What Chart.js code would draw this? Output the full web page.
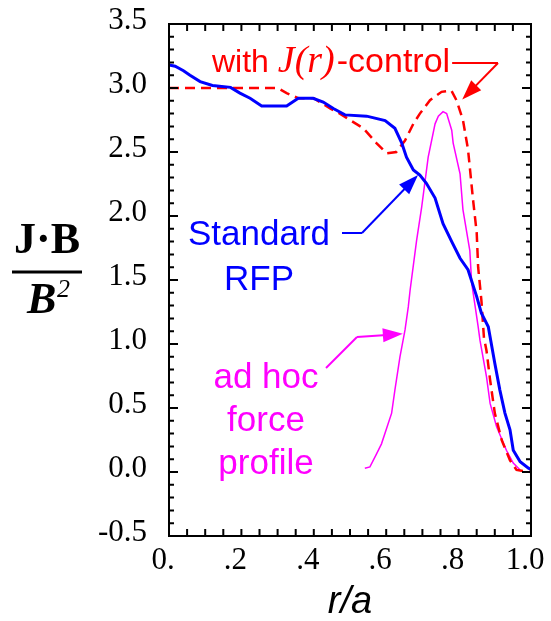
<!DOCTYPE html>
<html>
<head>
<meta charset="utf-8">
<script src="https://cdn.jsdelivr.net/npm/chart.js@4.4.1/dist/chart.umd.min.js"></script>
<style>
  html, body { margin: 0; padding: 0; background: #fff; }
  #wrap { width: 551px; height: 621px; position: relative; }
</style>
</head>
<body>
<div id="wrap"><canvas id="chart-jb"></canvas></div>
<script>
// values (r/a, J.B/B^2)
const standardR = [0, 0.017, 0.04, 0.058, 0.086, 0.12, 0.17, 0.196, 0.224, 0.256, 0.325, 0.357, 0.398, 0.426, 0.454, 0.486, 0.546, 0.597, 0.624, 0.643, 0.656, 0.675, 0.693, 0.711, 0.735, 0.757, 0.781, 0.804, 0.826, 0.85, 0.863, 0.882, 0.9, 0.914, 0.928, 0.942, 0.951, 0.97, 0.993, 1.0];
const standardVal = [3.18, 3.17, 3.135, 3.1, 3.05, 3.02, 3.005, 2.96, 2.92, 2.86, 2.86, 2.92, 2.92, 2.89, 2.84, 2.79, 2.78, 2.745, 2.685, 2.57, 2.46, 2.36, 2.32, 2.255, 2.14, 1.94, 1.8, 1.67, 1.58, 1.37, 1.24, 1.135, 0.85, 0.64, 0.46, 0.33, 0.17, 0.08, 0.03, 0.02];

const controlR = [0, 0.3, 0.325, 0.357, 0.4, 0.445, 0.472, 0.5, 0.537, 0.573, 0.601, 0.628, 0.652, 0.675, 0.693, 0.721, 0.753, 0.78, 0.794, 0.812, 0.826, 0.84, 0.85, 0.854, 0.863, 0.87, 0.877, 0.887, 0.9, 0.919, 0.942, 0.96, 0.974, 1.0];
const controlVal = [3.0, 3.0, 2.96, 2.92, 2.92, 2.84, 2.8, 2.75, 2.685, 2.57, 2.49, 2.5, 2.59, 2.72, 2.8, 2.905, 2.97, 2.98, 2.905, 2.75, 2.52, 2.125, 1.87, 1.6, 1.34, 1.05, 0.95, 0.72, 0.46, 0.25, 0.09, 0.016, 0.01, 0.0];

const forceR = [0.541, 0.555, 0.573, 0.587, 0.601, 0.615, 0.624, 0.638, 0.652, 0.661, 0.666, 0.684, 0.698, 0.716, 0.735, 0.744, 0.757, 0.767, 0.781, 0.785, 0.804, 0.812, 0.831, 0.836, 0.854, 0.859, 0.877, 0.887, 0.905, 0.932, 0.951, 0.97];
const forceVal = [0.03, 0.04, 0.14, 0.22, 0.34, 0.46, 0.64, 0.9, 1.11, 1.29, 1.42, 1.81, 2.07, 2.46, 2.72, 2.78, 2.815, 2.8, 2.67, 2.57, 2.33, 2.05, 1.73, 1.48, 1.135, 1.03, 0.745, 0.536, 0.354, 0.17, 0.07, 0.016];

const xTickLabels = ["0.", ".2", ".4", ".6", ".8", "1.0"];
const yTickLabels = ["-0.5", "0.0", "0.5", "1.0", "1.5", "2.0", "2.5", "3.0", "3.5"];

// arrow tips sit on the curves (data coords)
const standardTip = [0.688, 2.32];
const controlTip = [0.81, 2.91];
const forceTip = [0.646, 1.08];

function toPoints(xs, ys) {
  return xs.map((v, i) => ({ x: v, y: ys[i] }));
}

function arrow(ctx, x0, y0, x1, y1, color) {
  const ang = Math.atan2(y1 - y0, x1 - x0);
  const len = 20, half = 7;
  ctx.strokeStyle = color;
  ctx.fillStyle = color;
  ctx.lineWidth = 2;
  ctx.beginPath();
  ctx.moveTo(x0, y0);
  ctx.lineTo(x1 - Math.cos(ang) * len * 0.8, y1 - Math.sin(ang) * len * 0.8);
  ctx.stroke();
  ctx.beginPath();
  ctx.moveTo(x1, y1);
  ctx.lineTo(x1 - Math.cos(ang) * len - Math.sin(ang) * half, y1 - Math.sin(ang) * len + Math.cos(ang) * half);
  ctx.lineTo(x1 - Math.cos(ang) * len + Math.sin(ang) * half, y1 - Math.sin(ang) * len - Math.cos(ang) * half);
  ctx.closePath();
  ctx.fill();
}

const frameTicks = {
  id: 'frameTicks',
  afterDraw(chart) {
    const { ctx, chartArea: a, scales: { x, y } } = chart;
    ctx.save();
    ctx.strokeStyle = '#000';
    ctx.lineWidth = 2;
    ctx.strokeRect(a.left, a.top, a.right - a.left, a.bottom - a.top);
    ctx.beginPath();
    for (let i = 0; i <= 20; i++) {
      const px = x.getPixelForValue(i * 0.05);
      ctx.moveTo(px, a.bottom); ctx.lineTo(px, a.bottom - 7);
      ctx.moveTo(px, a.top); ctx.lineTo(px, a.top + 7);
    }
    for (let i = 0; i <= 40; i++) {
      const py = y.getPixelForValue(-0.5 + i * 0.1);
      const len = i % 5 === 0 ? 9 : 5;
      ctx.moveTo(a.left, py); ctx.lineTo(a.left + len, py);
      ctx.moveTo(a.right, py); ctx.lineTo(a.right - len, py);
    }
    ctx.stroke();
    ctx.restore();
  }
};

const labels = {
  id: 'labels',
  afterDraw(chart) {
    const { ctx, scales: { x, y } } = chart;
    ctx.save();
    ctx.textBaseline = 'alphabetic';

    // red: with J(r)-control
    ctx.fillStyle = '#ff0000';
    ctx.textAlign = 'left';
    let tx = 212;
    ctx.font = '32px "Liberation Sans"';
    ctx.fillText('with ', tx, 72);
    tx += ctx.measureText('with ').width;
    ctx.font = 'italic 38px "Liberation Serif"';
    ctx.fillText('J(r)', tx, 72);
    tx += ctx.measureText('J(r)').width + 2;
    ctx.font = '34px "Liberation Sans"';
    ctx.fillText('-control', tx, 72);
    tx += ctx.measureText('-control').width;
    ctx.strokeStyle = '#ff0000';
    ctx.lineWidth = 2;
    ctx.beginPath();
    ctx.moveTo(tx + 2, 63); ctx.lineTo(498, 63);
    ctx.stroke();
    arrow(ctx, 498, 63, x.getPixelForValue(controlTip[0]), y.getPixelForValue(controlTip[1]), '#ff0000');

    // blue: Standard RFP
    ctx.fillStyle = '#0000ff';
    ctx.textAlign = 'center';
    ctx.font = '35px "Liberation Sans"';
    ctx.fillText('Standard', 259, 245);
    ctx.fillText('RFP', 259, 290);
    ctx.strokeStyle = '#0000ff';
    ctx.lineWidth = 2;
    ctx.beginPath();
    ctx.moveTo(342, 233); ctx.lineTo(362, 233);
    ctx.stroke();
    arrow(ctx, 362, 233, x.getPixelForValue(standardTip[0]), y.getPixelForValue(standardTip[1]), '#0000ff');

    // magenta: ad hoc force profile
    ctx.fillStyle = '#ff00ff';
    ctx.fillText('ad hoc', 266, 388);
    ctx.fillText('force', 266, 431);
    ctx.fillText('profile', 266, 474);
    ctx.strokeStyle = '#ff00ff';
    ctx.lineWidth = 2;
    ctx.beginPath();
    ctx.moveTo(326, 368); ctx.lineTo(357, 337);
    ctx.stroke();
    arrow(ctx, 357, 337, x.getPixelForValue(forceTip[0]), y.getPixelForValue(forceTip[1]), '#ff00ff');

    // y title: J.B / B^2
    ctx.fillStyle = '#000';
    ctx.strokeStyle = '#000';
    ctx.textAlign = 'center';
    ctx.font = 'bold 44px "Liberation Serif"';
    ctx.fillText('J\u00B7B', 47, 253);
    ctx.lineWidth = 3;
    ctx.beginPath();
    ctx.moveTo(12, 272); ctx.lineTo(82, 272);
    ctx.stroke();
    ctx.textAlign = 'left';
    ctx.font = 'italic bold 44px "Liberation Serif"';
    ctx.fillText('B', 27, 313);
    ctx.font = 'italic 26px "Liberation Serif"';
    ctx.fillText('2', 57, 297);

    // x title
    ctx.textAlign = 'center';
    ctx.font = 'italic 38px "Liberation Sans"';
    ctx.fillText('r/a', 350, 613);
    ctx.restore();
  }
};

new Chart(document.getElementById('chart-jb').getContext('2d'), {
  type: 'scatter',
  data: {
    datasets: [
      {
        label: 'Standard RFP',
        data: toPoints(standardR, standardVal),
        showLine: true,
        borderColor: '#0000ff',
        borderWidth: 3,
        pointRadius: 0,
        tension: 0
      },
      {
        label: 'with J(r)-control',
        data: toPoints(controlR, controlVal),
        showLine: true,
        borderColor: '#ff0000',
        borderWidth: 2.5,
        borderDash: [10, 6],
        pointRadius: 0,
        tension: 0
      },
      {
        label: 'ad hoc force profile',
        data: toPoints(forceR, forceVal),
        showLine: true,
        borderColor: '#ff00ff',
        borderWidth: 1.5,
        pointRadius: 0,
        tension: 0
      }
    ]
  },
  options: {
    responsive: true,
    maintainAspectRatio: false,
    animation: false,
    layout: { padding: { top: 24, right: 20, left: 0, bottom: 0 } },
    plugins: {
      legend: { display: false },
      tooltip: { enabled: false }
    },
    scales: {
      x: {
        type: 'linear',
        min: 0,
        max: 1,
        afterFit(scale) {
          scale.height = 85;
          scale.paddingLeft = 0;
          scale.paddingRight = 0;
        },
        grid: { display: false, drawTicks: false },
        border: { display: false },
        ticks: {
          stepSize: 0.2,
          padding: 6,
          labelOffset: -6,
          color: '#000',
          font: { size: 31, family: '"Liberation Serif"' },
          maxRotation: 0,
          callback: (v, i) => xTickLabels[i]
        }
      },
      y: {
        min: -0.5,
        max: 3.5,
        afterFit(scale) {
          scale.width = 169;
          scale.paddingTop = 0;
          scale.paddingBottom = 0;
        },
        grid: { display: false, drawTicks: false },
        border: { display: false },
        ticks: {
          stepSize: 0.5,
          padding: 22,
          labelOffset: -3,
          color: '#000',
          font: { size: 31, family: '"Liberation Serif"' },
          callback: (v, i) => yTickLabels[i]
        }
      }
    }
  },
  plugins: [frameTicks, labels]
});
</script>
</body>
</html>
